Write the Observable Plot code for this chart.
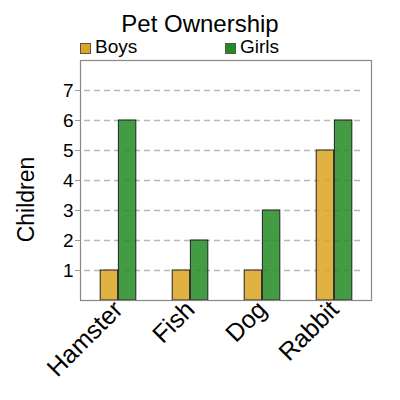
<!DOCTYPE html>
<html><head><meta charset="utf-8">
<script src="https://cdn.jsdelivr.net/npm/d3@7"></script>
<script src="https://cdn.jsdelivr.net/npm/@observablehq/plot@0.6"></script>
<style>
body{margin:0;background:#fff;font-family:"Liberation Sans",Arial,sans-serif;}
#wrap{position:relative;width:400px;height:400px;}
#chart{position:absolute;top:0;left:0;}
#title{position:absolute;top:11px;left:0;width:400px;text-align:center;font-size:24px;color:#000;line-height:26px;z-index:2;}
.leg{position:absolute;top:37px;font-size:19px;line-height:20px;display:flex;align-items:center;color:#000;z-index:2;}
.sw{width:9px;height:9px;border:1px solid #555;margin-right:4px;margin-top:3px;}
</style></head><body>
<div id="wrap"><div id="chart"></div><div id="title">Pet Ownership</div><div id="legend"></div></div>
<script>
const pets = ["Hamster","Fish","Dog","Rabbit"];
const boys = [1,1,1,5];
const girls = [6,2,3,6];
const series = ["Boys","Girls"];
const colors = ["#daa520","#228b22"];
const yTicks = [1,2,3,4,5,6,7];
const yLabel = "Children";
const title = "Pet Ownership";

const data = [];
pets.forEach((p,i)=>{
  data.push({pet:p, sex:series[0], count:boys[i]});
  data.push({pet:p, sex:series[1], count:girls[i]});
});

const W = 400, ML = 80, MR = 29;
const band = (W - ML - MR) / pets.length;
const half = band / 4;

const legend = document.getElementById("legend");
const legPos = [80, 225];
series.forEach((s,i)=>{
  const d = document.createElement("div");
  d.className = "leg";
  d.style.left = legPos[i] + "px";
  d.innerHTML = `<div class="sw" style="background:${colors[i]}"></div><span>${s}</span>`;
  legend.appendChild(d);
});

const chart = Plot.plot({
  width: 400,
  height: 400,
  marginTop: 60,
  marginBottom: 100,
  marginLeft: ML,
  marginRight: MR,
  style: {fontFamily: '"Liberation Sans", Arial, sans-serif', color: "#000", background: "#fff"},
  x: {domain: pets, padding: 0, label: null},
  y: {domain: [0, 8], label: null},
  color: {domain: series, range: colors},
  marks: [
    Plot.ruleY(yTicks, {stroke: "#b8b8b8", strokeDasharray: "6,4", strokeWidth: 1.3, insetLeft: 4, insetRight: 10}),
    Plot.barY(data.filter(d=>d.sex===series[0]), {x: "pet", y: "count", fill: "sex", fillOpacity: 0.85, stroke: "#222", strokeWidth: 1, insetLeft: half, insetRight: band/2}),
    Plot.barY(data.filter(d=>d.sex===series[1]), {x: "pet", y: "count", fill: "sex", fillOpacity: 0.85, stroke: "#222", strokeWidth: 1, insetLeft: band/2, insetRight: half}),
    Plot.axisY(yTicks, {tickSize: 5, tickPadding: 2, fontSize: 19, stroke: "#999", label: null}),
    Plot.axisX({tickRotate: -45, tickSize: 0, tickPadding: 5, fontSize: 25, label: null}),
    Plot.text([yLabel], {frameAnchor: "left", text: d=>d, rotate: -90, textAnchor: "middle", dx: -54, dy: 19, fontSize: 23}),
    Plot.frame({stroke: "#888", strokeWidth: 1.2})
  ]
});
document.getElementById("chart").appendChild(chart);
</script>
</body></html>
